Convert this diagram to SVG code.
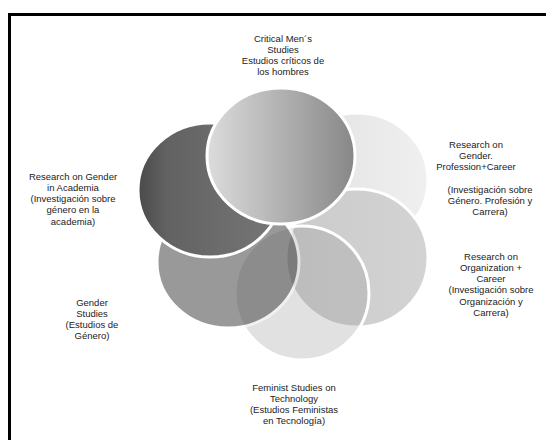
<svg xmlns="http://www.w3.org/2000/svg" width="546" height="440" viewBox="0 0 546 440">
<style>
.lbl{font-family:"Liberation Sans",Arial,Helvetica,sans-serif;font-size:9.5px;fill:#222;text-anchor:middle}
.sh{stroke:#fff;stroke-width:3}
</style>
<defs>
<linearGradient id="gTop" x1="0" y1="0" x2="1" y2="0"><stop offset="0" stop-color="#dcdcdc"/><stop offset="1" stop-color="#878787"/></linearGradient>
<linearGradient id="gTR" x1="0" y1="0" x2="1" y2="0"><stop offset="0" stop-color="#e0e0e0"/><stop offset="1" stop-color="#f0f0f0"/></linearGradient>
<linearGradient id="gR" x1="0" y1="0" x2="1" y2="0"><stop offset="0" stop-color="#cbcbcb"/><stop offset="1" stop-color="#d3d3d3"/></linearGradient>
<linearGradient id="gAc" x1="0" y1="0" x2="1" y2="0"><stop offset="0" stop-color="#4a4a4a"/><stop offset="0.2" stop-color="#626262"/><stop offset="1" stop-color="#777777"/></linearGradient>
</defs>
<path d="M9.5 440V14.5H546" fill="none" stroke="#000" stroke-width="3"/>
<g id="n-profession">
<ellipse class="sh" cx="357" cy="180" rx="71" ry="67" fill="url(#gTR)"/>
<text class="lbl"><tspan x="476" y="147.5">Research on</tspan><tspan x="476" y="158.8">Gender.</tspan><tspan x="476" y="170.1">Profession+Career</tspan><tspan x="490" y="192.7">(Investigación sobre</tspan><tspan x="490" y="204">Género. Profesión y</tspan><tspan x="490" y="215.3">Carrera)</tspan></text>
</g>
<g id="n-organization">
<ellipse class="sh" cx="357" cy="258" rx="71" ry="69" fill="url(#gR)"/>
<text class="lbl"><tspan x="491" y="259.5">Research on</tspan><tspan x="491" y="270.8">Organization +</tspan><tspan x="491" y="282.1">Career</tspan><tspan x="491" y="293.4">(Investigación sobre</tspan><tspan x="491" y="304.7">Organización y</tspan><tspan x="491" y="316">Carrera)</tspan></text>
</g>
<g id="n-feminist">
<ellipse class="sh" cx="302" cy="293" rx="67" ry="67" fill="#9a9a9a" fill-opacity="0.3"/>
<text class="lbl"><tspan x="294" y="390.5">Feminist Studies on</tspan><tspan x="294" y="401.8">Technology</tspan><tspan x="294" y="413.1">(Estudios Feministas</tspan><tspan x="294" y="424.4">en Tecnología)</tspan></text>
</g>
<g id="n-gender">
<ellipse class="sh" cx="228" cy="262" rx="71" ry="66" fill="#474747" opacity="0.55"/>
<text class="lbl"><tspan x="92" y="305.5">Gender</tspan><tspan x="92" y="316.8">Studies</tspan><tspan x="92" y="328.1">(Estudios de</tspan><tspan x="92" y="339.4">Género)</tspan></text>
</g>
<g id="n-academia">
<ellipse class="sh" cx="210" cy="190" rx="72" ry="67" fill="url(#gAc)"/>
<text class="lbl"><tspan x="73" y="179.5">Research on Gender</tspan><tspan x="73" y="190.8">in Academia</tspan><tspan x="73" y="202.1">(Investigación sobre</tspan><tspan x="73" y="213.4">género en la</tspan><tspan x="73" y="224.7">academia)</tspan></text>
</g>
<g id="n-critical">
<ellipse class="sh" cx="281" cy="156" rx="74" ry="68" fill="url(#gTop)"/>
<text class="lbl"><tspan x="283" y="41.5">Critical Men´s</tspan><tspan x="283" y="52.8">Studies</tspan><tspan x="283" y="64.1">Estudios críticos de</tspan><tspan x="283" y="75.4">los hombres</tspan></text>
</g>
<g id="connectors"></g>
</svg>
